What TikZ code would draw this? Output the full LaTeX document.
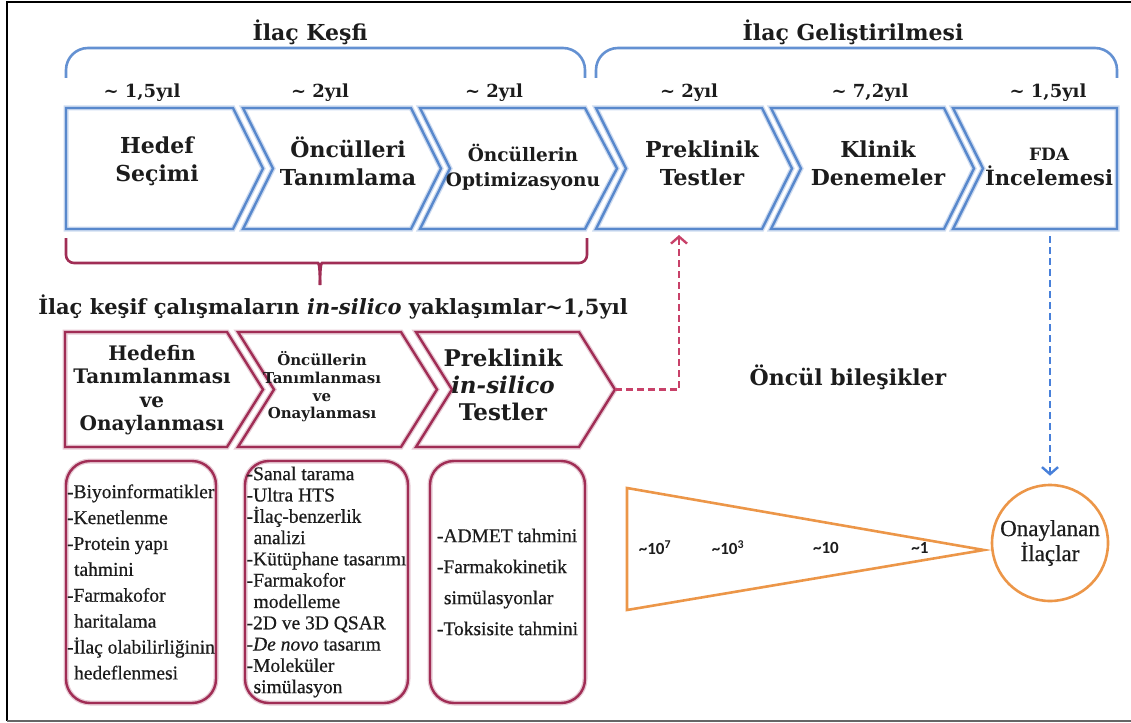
\documentclass[tikz,border=0pt]{standalone}
\usepackage{fontspec}
\setmainfont{DejaVu Serif}
\newfontfamily\boxfont[FakeBold=0.6]{Liberation Serif}
\newfontfamily\numfont{Carlito}
\usetikzlibrary{arrows.meta}

\definecolor{chevblue}{RGB}{88,136,204}
\definecolor{braceblue}{RGB}{100,145,210}
\definecolor{chevred}{RGB}{160,45,85}
\definecolor{dashred}{RGB}{200,65,105}
\definecolor{triorange}{RGB}{236,150,72}
\definecolor{arrblue}{RGB}{72,128,218}
\definecolor{inktext}{RGB}{28,28,28}

\newcommand{\setfs}[2]{\fontsize{#1}{#2}\selectfont}
% style, left x, top-right x, top y, bottom y, notch, tip
\newcommand{\chevshape}[7]{%
  \draw[#1] (#2,#4) -- (#3,#4) -- ({#3+#7},{(#4+#5)/2}) -- (#3,#5) -- (#2,#5)
    -- ({#2+#6},{(#4+#5)/2}) -- cycle;}

\begin{document}
\begin{tikzpicture}[x=1pt, y=-1pt,
  bluechev/.style={draw=chevblue, line width=2.4pt, preaction={draw=chevblue!30, line width=5pt}},
  redchev/.style={draw=chevred, line width=2.4pt, preaction={draw=chevred!25, line width=5pt}},
  ttl/.style={font=\bfseries\setfs{22}{26}, text=inktext},
  yr/.style={font=\bfseries\setfs{18}{22}, text=inktext},
  ctxt/.style={font=\bfseries\setfs{22}{28}, align=center, text=inktext, inner sep=0pt},
  rtxt/.style={font=\bfseries\setfs{20}{23.5}, align=center, text=inktext, inner sep=0pt},
  brc/.style={draw=braceblue, line width=2.6pt, rounded corners=22pt},
  rbrc/.style={draw=chevred, line width=2.6pt},
  infobox/.style={draw=chevred, line width=2.4pt, rounded corners=24pt, minimum width=150pt,
                  minimum height=242pt, inner sep=0pt, align=left, text=inktext,
                  preaction={draw=chevred!25, line width=5pt}},
  redarr/.style={draw=dashred, line width=2.4pt, dash pattern=on 7pt off 4pt,
                 -{Straight Barb[length=7pt,width=16pt]}},
  bluearr/.style={draw=arrblue, line width=2.4pt, dash pattern=on 7pt off 4pt,
                  -{Straight Barb[length=7pt,width=16pt]}, shorten >=8pt},
  tri/.style={draw=triorange, line width=2.6pt, line join=miter},
  numlbl/.style={font=\numfont\bfseries\setfs{17}{19}, text=inktext},
]
\useasboundingbox (0,0) rectangle (1131,722);
\draw[black, line width=2.5pt] (1131,2) -- (7,2) -- (7,721);
\draw[black!60, line width=2pt] (7,721) -- (1131,721);

\node[ttl] (kesif) at (310,32) {İlaç Keşfi};
\node[ttl] (gelis) at (853,32) {İlaç Geliştirilmesi};
\draw[brc] (66,78) |- (585,48) -- (585,78);
\draw[brc] (596,78) |- (1117,48) -- (1117,78);

\node[yr] at (142,93) {\textasciitilde{} 1,5yıl};
\node[yr] at (320,93) {\textasciitilde{} 2yıl};
\node[yr] at (494,93) {\textasciitilde{} 2yıl};
\node[yr] at (689,93) {\textasciitilde{} 2yıl};
\node[yr] at (870,93) {\textasciitilde{} 7,2yıl};
\node[yr] at (1048,93) {\textasciitilde{} 1,5yıl};

\chevshape{bluechev}{66}{233}{108}{229}{0}{30}
\chevshape{bluechev}{243}{411}{108}{229}{30}{30}
\chevshape{bluechev}{420}{585}{108}{229}{30}{32}
\chevshape{bluechev}{596}{762}{108}{229}{30}{30}
\chevshape{bluechev}{771}{944}{108}{229}{30}{30}
\chevshape{bluechev}{953}{1117}{108}{229}{30}{0}

\node[ctxt] (hs) at (157,161) {Hedef\\Seçimi};
\node[ctxt] (ot) at (348,161) {Öncülleri\\Tanımlama};
\node[ctxt, font=\bfseries\setfs{18.5}{25}] (oo) at (523,167) {Öncüllerin\\Optimizasyonu};
\node[ctxt] (pt) at (702,163) {Preklinik\\Testler};
\node[ctxt] (kd) at (878,163) {Klinik\\Denemeler};
\node[ctxt, font=\bfseries\setfs{21}{25}] (fi) at (1049,167) {{\setfs{17}{25}FDA}\\İncelemesi};
\coordinate (pt-bot) at (679,235);
\coordinate (fi-bot) at (1050,236);

\draw[rbrc] (66,238) [rounded corners=8pt] |- (310,263) [sharp corners] to[out=0,in=90] (320,285);
\draw[rbrc] (587,238) [rounded corners=8pt] |- (330,263) [sharp corners] to[out=180,in=90] (320,285);
\node[font=\bfseries\setfs{21}{24}, text=inktext] (insilico) at (333,307)
  {İlaç keşif çalışmaların \textit{in-silico} yaklaşımlar\textasciitilde1,5yıl};

\chevshape{redchev}{65}{227}{332}{447}{0}{36}
\chevshape{redchev}{238}{401}{332}{447}{36}{36}
\chevshape{redchev}{416}{579}{332}{447}{36}{36}

\node[rtxt] (ht) at (152,390) {Hedefin\\Tanımlanması\\ve\\Onaylanması};
\node[rtxt, font=\bfseries\setfs{15}{17.7}] (to) at (322,387) {Öncüllerin\\Tanımlanması\\ve\\Onaylanması};
\node[rtxt, font=\bfseries\setfs{23}{27}] (pis) at (503,385) {Preklinik\\\textit{in-silico}\\Testler};
\coordinate (pis-tip) at (615,389.5);
\draw[redarr] (pis-tip) -| (pt-bot);

\node[infobox, font=\boxfont\setfs{19.5}{25.9}] (bx1) at (141,582)
  {-Biyoinformatikler\\-Kenetlenme\\-Protein yapı\\\hspace*{7pt}tahmini\\-Farmakofor\\\hspace*{7pt}haritalama\\-İlaç olabilirliğinin\\\hspace*{7pt}hedeflenmesi};
\node[infobox, minimum width=163pt, font=\boxfont\setfs{19.5}{21.3}] (bx2) at (326.5,582)
  {-Sanal tarama\\-Ultra HTS\\-İlaç-benzerlik\\\hspace*{7pt}analizi\\-Kütüphane tasarımı\\-Farmakofor\\\hspace*{7pt}modelleme\\-2D ve 3D QSAR\\-\textit{De novo} tasarım\\-Moleküler\\\hspace*{7pt}simülasyon};
\node[infobox, minimum width=155pt, font=\boxfont\setfs{19.5}{31}] (bx3) at (507.5,582)
  {-ADMET tahmini\\-Farmakokinetik\\\hspace*{7pt}simülasyonlar\\-Toksisite tahmini};

\node[font=\bfseries\setfs{22}{26}, text=inktext] (oncul) at (848,377) {Öncül bileşikler};
\coordinate (tri-a) at (627,488);
\coordinate (tri-b) at (984,550);
\coordinate (tri-c) at (627,610);
\draw[tri] (tri-a) -- (tri-b) -- (tri-c) -- cycle;
\node[numlbl] at (655,548) {\textasciitilde10\textsuperscript{7}};
\node[numlbl] at (728,548) {\textasciitilde10\textsuperscript{3}};
\node[numlbl] at (826,548) {\textasciitilde10};
\node[numlbl] at (920,548) {\textasciitilde1};

\node[circle, draw=triorange, line width=2.6pt, minimum size=116pt, inner sep=0pt, align=center,
      font=\boxfont\setfs{23}{25}, text=inktext] (ok) at (1050,543) {Onaylanan\\İlaçlar};
\draw[bluearr] (fi-bot) -- (ok);
\end{tikzpicture}
\end{document}
